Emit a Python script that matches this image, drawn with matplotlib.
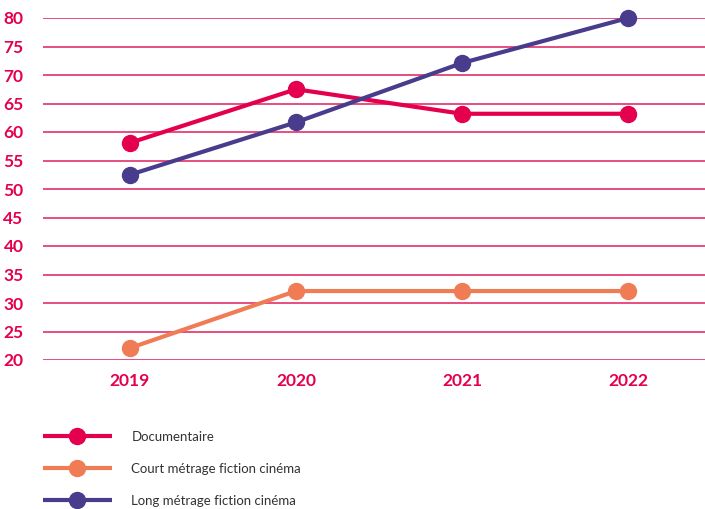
import matplotlib
matplotlib.use("Agg")
import matplotlib.pyplot as plt

years = ["2019", "2020", "2021", "2022"]
documentaire = [58.1, 67.5, 63.2, 63.2]
court = [22.1, 32.1, 32.1, 32.1]
long_ = [52.5, 61.7, 72.1, 80.0]
series_names = ["Documentaire", "Court métrage fiction cinéma", "Long métrage fiction cinéma"]
yticks = list(range(20, 81, 5))

crimson = "#E4004F"
orange = "#F07C56"
purple = "#4A3C8C"
grid_c = "#E3306B"

plt.rcParams['font.family'] = ['Lato', 'DejaVu Sans']

fig = plt.figure(figsize=(7.05, 5.09), dpi=100)
ax = fig.add_axes([43/705, 149/509, 662/705, 342/509])

x = range(len(years))
for vals, col, name in [(documentaire, crimson, series_names[0]),
                        (court, orange, series_names[1]),
                        (long_, purple, series_names[2])]:
    ax.plot(x, vals, color=col, lw=3, marker='o', ms=11.5, label=name,
            solid_capstyle='butt', zorder=3, clip_on=False)

ax.set_xlim(-0.524, 3.464)
ax.set_ylim(20, 80)
ax.set_yticks(yticks)
ax.set_yticklabels([str(t) for t in yticks], fontweight='bold', fontsize=12.5, color=crimson)
ax.set_xticks(list(x))
ax.set_xticklabels(years, fontweight='bold', fontsize=12.5, color=crimson)
for s in ax.spines.values():
    s.set_visible(False)
ax.yaxis.grid(True, color=grid_c, lw=1.2)
ax.set_axisbelow(True)
ax.tick_params(axis='both', length=0)
ax.tick_params(axis='y', pad=14)
ax.tick_params(axis='x', pad=9)

leg = fig.legend(loc='upper left', bbox_to_anchor=(43/705, 1 - 431/509),
                 frameon=False, fontsize=9.5, handlelength=5.2, handletextpad=1.5,
                 labelspacing=1.52, borderaxespad=0, borderpad=0)
for t in leg.get_texts():
    t.set_color('#333333')

fig.savefig("out.png", dpi=100)
